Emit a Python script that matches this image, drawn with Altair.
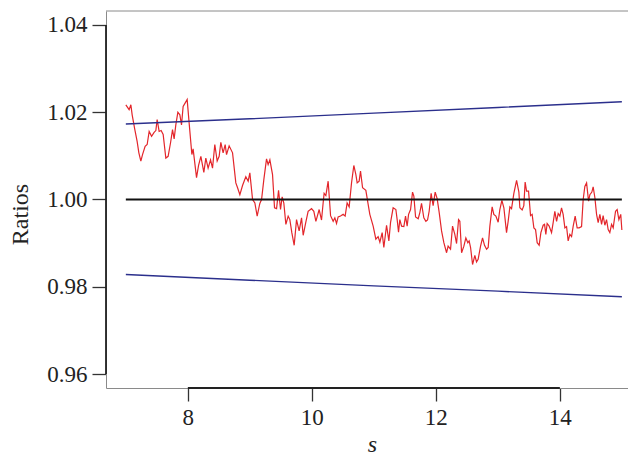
import altair as alt
import pandas as pd

# ---- data ----
s_vals = [
    7.000, 7.053, 7.081, 7.102, 7.145, 7.182, 7.210, 7.242, 7.269, 7.311,
    7.344, 7.376, 7.415, 7.456, 7.484, 7.505, 7.537, 7.569, 7.602, 7.645,
    7.682, 7.721, 7.753, 7.779, 7.806, 7.839, 7.871, 7.898, 7.924, 7.989,
    8.021, 8.065, 8.085, 8.140, 8.173, 8.210, 8.258, 8.290, 8.327, 8.366,
    8.398, 8.435, 8.473, 8.505, 8.532, 8.569, 8.602, 8.624, 8.666, 8.721,
    8.774, 8.802, 8.839, 8.882, 8.935, 8.973, 9.000, 9.044, 9.081, 9.118,
    9.161, 9.189, 9.226, 9.269, 9.295, 9.323, 9.366, 9.398, 9.431, 9.463,
    9.495, 9.521, 9.548, 9.581, 9.618, 9.645, 9.677, 9.715, 9.753, 9.795,
    9.834, 9.860, 9.903, 9.940, 9.995, 10.032, 10.065, 10.118, 10.156, 10.182,
    10.198, 10.226, 10.263, 10.302, 10.344, 10.371, 10.398, 10.424, 10.463, 10.505,
    10.537, 10.569, 10.602, 10.640, 10.677, 10.710, 10.731, 10.763, 10.785, 10.818,
    10.871, 10.908, 10.935, 10.989, 11.032, 11.069, 11.097, 11.134, 11.161, 11.205,
    11.242, 11.269, 11.311, 11.355, 11.376, 11.398, 11.419, 11.447, 11.484, 11.511,
    11.537, 11.560, 11.592, 11.624, 11.645, 11.673, 11.715, 11.742, 11.769, 11.806,
    11.839, 11.866, 11.892, 11.924, 11.956, 11.989, 12.021, 12.053, 12.092, 12.129,
    12.173, 12.198, 12.237, 12.269, 12.306, 12.334, 12.366, 12.387, 12.415, 12.452,
    12.484, 12.516, 12.537, 12.560, 12.592, 12.629, 12.656, 12.682, 12.721, 12.753,
    12.785, 12.818, 12.844, 12.871, 12.908, 12.935, 12.968, 13.005, 13.032, 13.065,
    13.097, 13.140, 13.166, 13.194, 13.221, 13.258, 13.302, 13.339, 13.355, 13.392,
    13.419, 13.440, 13.463, 13.495, 13.527, 13.553, 13.581, 13.608, 13.634, 13.666,
    13.694, 13.731, 13.753, 13.774, 13.795, 13.827, 13.866, 13.892, 13.919, 13.947,
    13.973, 14.000, 14.027, 14.053, 14.081, 14.108, 14.134, 14.161, 14.189, 14.215,
    14.247, 14.279, 14.311, 14.350, 14.376, 14.403, 14.431, 14.463, 14.484, 14.516,
    14.537, 14.565, 14.592, 14.618, 14.645, 14.673, 14.698, 14.726, 14.753, 14.779,
    14.806, 14.834, 14.860, 14.898, 14.924, 14.952, 14.982, 15.000,
]

ratio_vals = [
    1.0217, 1.0206, 1.0217, 1.0194, 1.0160, 1.0133, 1.0107, 1.0088, 1.0103, 1.0122,
    1.0126, 1.0156, 1.0145, 1.0154, 1.0158, 1.0183, 1.0156, 1.0158, 1.0149, 1.0095,
    1.0099, 1.0130, 1.0160, 1.0139, 1.0171, 1.0200, 1.0194, 1.0171, 1.0213, 1.0229,
    1.0175, 1.0103, 1.0116, 1.0050, 1.0078, 1.0099, 1.0062, 1.0095, 1.0072, 1.0091,
    1.0072, 1.0126, 1.0088, 1.0099, 1.0131, 1.0107, 1.0126, 1.0103, 1.0123, 1.0107,
    1.0038, 1.0027, 1.0011, 1.0032, 1.0052, 1.0042, 1.0061, 1.0000, 0.9992, 0.9962,
    0.9991, 1.0000, 1.0046, 1.0093, 1.0080, 1.0091, 1.0057, 0.9981, 0.9979, 1.0021,
    0.9977, 1.0006, 0.9992, 0.9943, 0.9962, 0.9954, 0.9924, 0.9895, 0.9954, 0.9928,
    0.9958, 0.9918, 0.9948, 0.9973, 0.9979, 0.9973, 0.9950, 0.9977, 0.9953, 0.9992,
    1.0014, 1.0009, 1.0042, 0.9963, 0.9950, 0.9958, 0.9945, 0.9960, 0.9962, 0.9966,
    0.9962, 0.9992, 0.9983, 1.0038, 1.0078, 1.0057, 1.0038, 1.0042, 1.0065, 1.0027,
    1.0021, 0.9989, 0.9966, 0.9939, 0.9909, 0.9915, 0.9902, 0.9924, 0.9890, 0.9941,
    0.9905, 0.9947, 0.9981, 0.9977, 0.9954, 0.9925, 0.9954, 0.9939, 0.9938, 0.9962,
    0.9939, 0.9966, 0.9977, 1.0017, 1.0008, 0.9960, 0.9956, 0.9970, 0.9991, 0.9958,
    0.9950, 0.9953, 0.9973, 1.0014, 0.9986, 1.0017, 1.0002, 0.9971, 0.9928, 0.9901,
    0.9878, 0.9893, 0.9886, 0.9939, 0.9920, 0.9899, 0.9954, 0.9950, 0.9878, 0.9893,
    0.9912, 0.9901, 0.9905, 0.9890, 0.9851, 0.9872, 0.9857, 0.9863, 0.9893, 0.9912,
    0.9895, 0.9886, 0.9890, 0.9939, 0.9983, 0.9966, 0.9962, 0.9948, 0.9977, 0.9998,
    0.9981, 0.9924, 0.9950, 0.9983, 0.9979, 1.0014, 1.0044, 1.0017, 0.9981, 0.9976,
    0.9986, 1.0040, 1.0019, 1.0019, 0.9963, 0.9966, 0.9935, 0.9931, 0.9901, 0.9895,
    0.9924, 0.9941, 0.9943, 0.9920, 0.9945, 0.9939, 0.9924, 0.9947, 0.9973, 0.9950,
    0.9968, 0.9962, 0.9981, 0.9966, 0.9935, 0.9938, 0.9905, 0.9920, 0.9915, 0.9939,
    0.9962, 0.9935, 0.9935, 0.9938, 1.0000, 1.0030, 1.0038, 0.9996, 1.0011, 1.0017,
    1.0029, 1.0004, 0.9966, 0.9947, 0.9966, 0.9943, 0.9963, 0.9941, 0.9954, 0.9931,
    0.9924, 0.9943, 0.9935, 0.9973, 0.9977, 0.9954, 0.9966, 0.9930,
]

band_s = [7.0, 9.0, 11.0, 13.0, 15.0]
upper_vals = [1.0173, 1.0185, 1.0198, 1.0211, 1.0224]
lower_vals = [0.9828, 0.9815, 0.9802, 0.9790, 0.9777]

ref_s = [7.0, 15.0]
ref_vals = [1.0, 1.0]

x_ticks = [8, 10, 12, 14]
y_ticks = [0.96, 0.98, 1.00, 1.02, 1.04]

X_DOMAIN = [6.68, 15.099]
Y_DOMAIN = [0.9568, 1.0432]

FONT = "Liberation Serif"
TXT = "#222222"
BOX = "#8a8a8a"

# ---- tables ----
df_red = pd.DataFrame({"s": s_vals, "ratio": ratio_vals})
df_band = pd.concat([
    pd.DataFrame({"s": band_s, "ratio": upper_vals, "band": "upper"}),
    pd.DataFrame({"s": band_s, "ratio": lower_vals, "band": "lower"}),
])
df_ref = pd.DataFrame({"s": ref_s, "ratio": ref_vals})
df_yseg = pd.DataFrame({"s": [X_DOMAIN[0]], "lo": [y_ticks[0]], "hi": [y_ticks[-1]]})
df_xseg = pd.DataFrame({"lo": [x_ticks[0]], "hi": [x_ticks[-1]], "ratio": [Y_DOMAIN[0]]})
df_top = pd.DataFrame({"lo": [X_DOMAIN[0]], "hi": [X_DOMAIN[1]], "ratio": [Y_DOMAIN[1]]})

xscale = alt.Scale(domain=X_DOMAIN, nice=False, zero=False)
yscale = alt.Scale(domain=Y_DOMAIN, nice=False, zero=False)

x_axis = alt.Axis(
    orient="bottom", values=x_ticks, format="d", grid=False,
    domainColor=BOX, domainWidth=1,
    tickColor="#333333", tickWidth=1.3, tickSize=13,
    labelFont=FONT, labelFontSize=23, labelColor=TXT, labelPadding=5,
    title="s", titleFont=FONT, titleFontSize=24, titleFontStyle="italic",
    titleFontWeight="normal", titleColor=TXT,
    titleX=266, titleY=63, titleAlign="center", titleBaseline="alphabetic",
)
y_axis = alt.Axis(
    orient="left", values=y_ticks, format=".2f", grid=False,
    domainColor=BOX, domainWidth=1,
    tickColor="#333333", tickWidth=1.3, tickSize=14,
    labelFont=FONT, labelFontSize=23, labelColor=TXT, labelPadding=5,
    title="Ratios", titleFont=FONT, titleFontSize=24, titleFontWeight="normal",
    titleColor=TXT, titleAngle=270, titleX=-86, titleY=203,
    titleAlign="center", titleBaseline="middle",
)

red = alt.Chart(df_red).mark_line(color="#e3262b", strokeWidth=1.2).encode(
    x=alt.X("s:Q", scale=xscale, axis=x_axis),
    y=alt.Y("ratio:Q", scale=yscale, axis=y_axis),
)

bands = alt.Chart(df_band).mark_line(color="#2b2f8c", strokeWidth=1.4).encode(
    x=alt.X("s:Q", scale=xscale),
    y=alt.Y("ratio:Q", scale=yscale),
    detail="band:N",
)

ref = alt.Chart(df_ref).mark_line(color="#111111", strokeWidth=1.8).encode(
    x=alt.X("s:Q", scale=xscale),
    y=alt.Y("ratio:Q", scale=yscale),
)

yseg = alt.Chart(df_yseg).mark_rule(color="#222222", strokeWidth=1.8).encode(
    x=alt.X("s:Q", scale=xscale),
    y=alt.Y("lo:Q", scale=yscale),
    y2="hi:Q",
)

xseg = alt.Chart(df_xseg).mark_rule(color="#222222", strokeWidth=1.8).encode(
    x=alt.X("lo:Q", scale=xscale),
    x2="hi:Q",
    y=alt.Y("ratio:Q", scale=yscale),
)

top = alt.Chart(df_top).mark_rule(color=BOX, strokeWidth=1).encode(
    x=alt.X("lo:Q", scale=xscale),
    x2="hi:Q",
    y=alt.Y("ratio:Q", scale=yscale),
)

chart = alt.layer(red, bands, ref, top, yseg, xseg).properties(
    width=522,
    height=377,
    padding={"left": 98, "top": 3, "right": 0, "bottom": 65},
    autosize=alt.AutoSizeParams(type="none"),
    background="white",
).configure_view(stroke=None)

chart.save("out.html", embed_options={"renderer": "svg", "actions": False})
